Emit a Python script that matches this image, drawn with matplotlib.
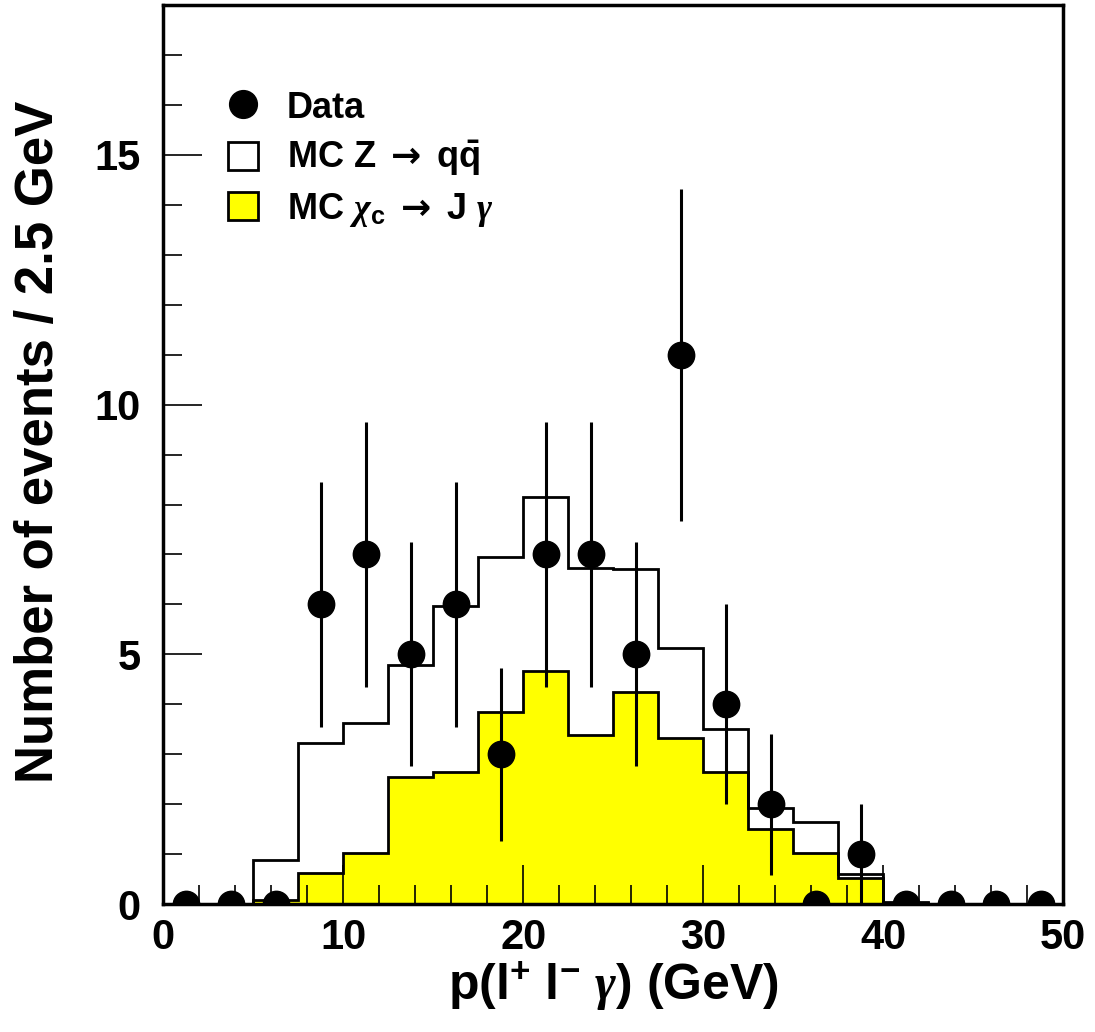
import numpy as np
import matplotlib
matplotlib.use("Agg")
import matplotlib.pyplot as plt
from matplotlib.lines import Line2D
from matplotlib.patches import Patch

plt.rcParams['font.family'] = ['Liberation Sans', 'DejaVu Sans']
plt.rcParams['font.weight'] = 'bold'
plt.rcParams['mathtext.fontset'] = 'custom'
plt.rcParams['mathtext.rm'] = 'Liberation Sans:bold'
plt.rcParams['mathtext.bf'] = 'Liberation Sans:bold'
plt.rcParams['mathtext.it'] = 'Liberation Serif:italic'
plt.rcParams['mathtext.sf'] = 'DejaVu Sans'

# bin edges, 2.5 GeV bins from 0 to 50
edges = np.arange(0, 50.01, 2.5)
centers = (edges[:-1] + edges[1:]) / 2

# data counts per bin
data_counts = [0, 0, 0, 6, 7, 5, 6, 3, 7, 7, 5, 11, 4, 2, 0, 1, 0, 0, 0, 0]
data_err = [0, 0, 0, 2.45, 2.65, 2.24, 2.45, 1.73, 2.65, 2.65, 2.24, 3.32,
            2.0, 1.41, 0, 1.0, 0, 0, 0, 0]

# MC Z -> qqbar (open histogram)
mc_zqq = [0, 0, 0.88, 3.22, 3.62, 4.78, 5.96, 6.94, 8.16, 6.72, 6.70, 5.12,
          3.50, 1.92, 1.64, 0.60, 0.04, 0, 0, 0]
# MC chi_c -> J gamma (yellow histogram)
mc_chic = [0, 0, 0.08, 0.62, 1.02, 2.54, 2.64, 3.84, 4.66, 3.38, 4.24, 3.32,
           2.64, 1.50, 1.02, 0.52, 0.03, 0, 0, 0]

fig = plt.figure(figsize=(10.95, 10.32), dpi=100)
ax = fig.add_axes([0.149, 0.124, 0.822, 0.871])

ax.stairs(mc_chic, edges, fill=True, facecolor='#ffff00', edgecolor='none', zorder=1)
ax.stairs(mc_chic, edges, color='black', lw=2, zorder=2)
ax.stairs(mc_zqq, edges, color='black', lw=2, zorder=3)

err = np.array(data_err)
ax.errorbar(centers, data_counts, yerr=err, fmt='o', color='black', ms=19,
            elinewidth=2.2, capsize=0, zorder=5)

ax.set_xlim(0, 50)
ax.set_ylim(0, 18)
ax.set_xticks([0, 10, 20, 30, 40, 50])
ax.set_xticks(np.arange(0, 51, 2), minor=True)
ax.set_yticks([0, 5, 10, 15])
ax.set_yticks(np.arange(0, 18, 1), minor=True)
ax.tick_params(which='both', direction='in', top=False, right=False)
ax.tick_params(which='major', length=28, width=1.2, labelsize=30)
ax.tick_params(axis='x', which='major', pad=10)
ax.tick_params(axis='y', which='major', pad=16)
ax.tick_params(which='minor', length=14, width=1.2)
for lab in ax.get_xticklabels() + ax.get_yticklabels():
    lab.set_fontweight('bold')
for s in ax.spines.values():
    s.set_linewidth(2.5)

ax.set_xlabel(r"p(l$^{+}$ l$^{-}$ $\gamma$) (GeV)", fontsize=36, fontweight='bold', labelpad=2)
ax.set_ylabel("Number of events / 2.5 GeV", fontsize=38, fontweight='bold')
ax.yaxis.set_label_coords(-0.110, 0.514)

handles = [
    Line2D([], [], marker='o', color='black', ls='none', ms=20),
    Patch(facecolor='white', edgecolor='black', lw=2),
    Patch(facecolor='#ffff00', edgecolor='black', lw=2),
]
labels = ["Data",
          r"MC Z $\mathsf{\rightarrow}$ q$\bar{\mathrm{q}}$",
          r"MC $\chi_{\mathrm{c}}$ $\mathsf{\rightarrow}$ J $\gamma$"]
ax.legend(handles, labels, loc='upper left', bbox_to_anchor=(0.072, 0.905), frameon=False,
          prop={'size': 26, 'weight': 'bold'}, handlelength=0.83, handleheight=0.83,
          handletextpad=0.8, labelspacing=0.35, borderpad=0, borderaxespad=0)

fig.savefig("out.png", dpi=100)
